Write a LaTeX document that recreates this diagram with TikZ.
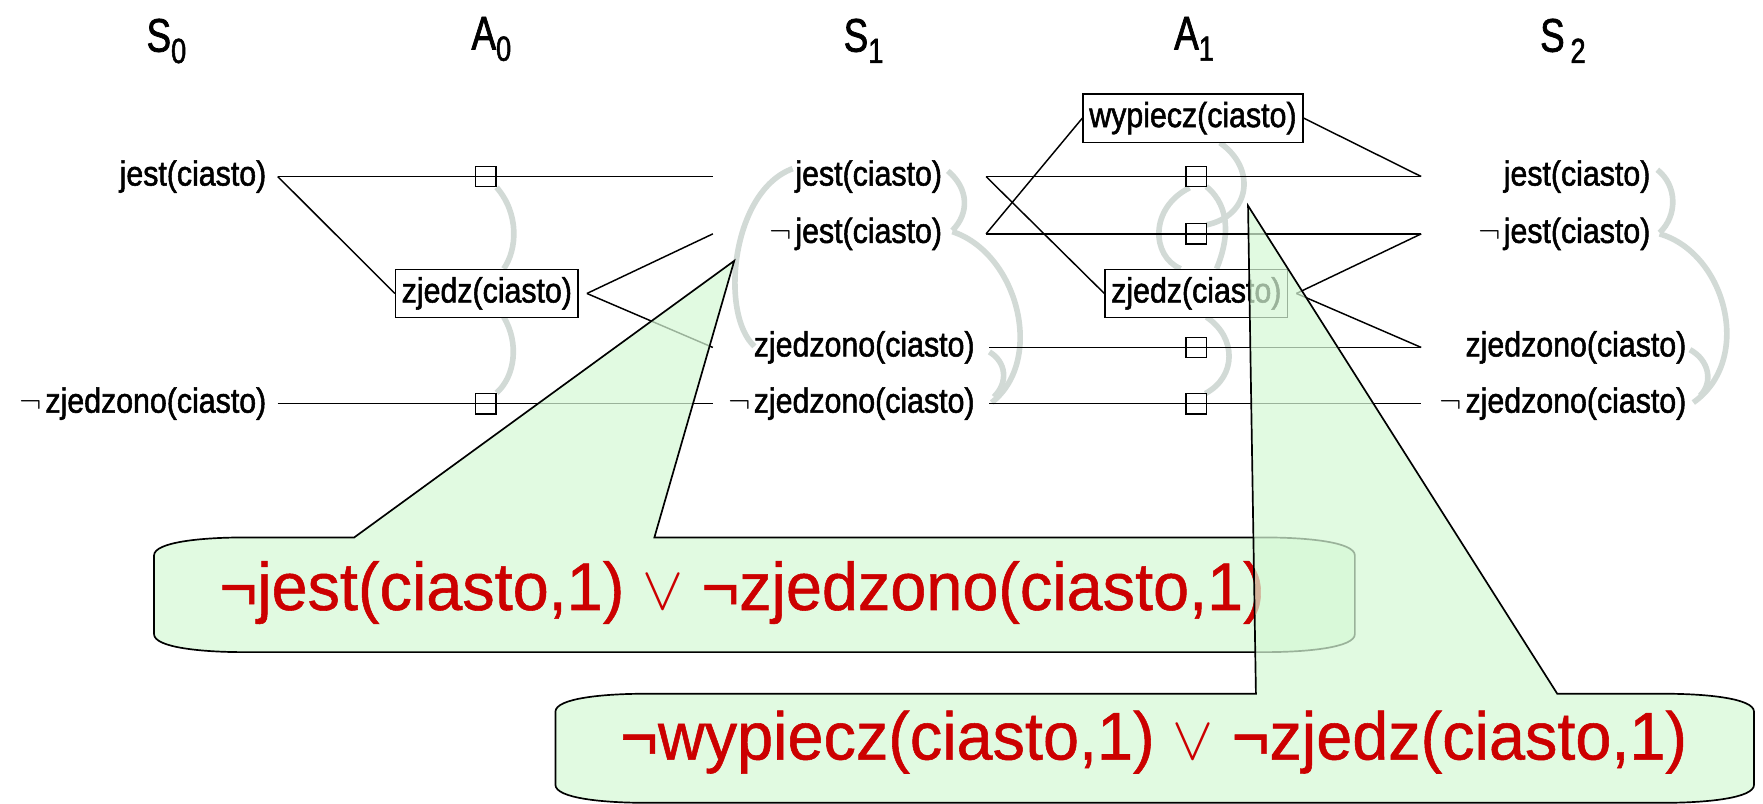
\documentclass[tikz,border=0pt]{standalone}
\usepackage{fontspec}
\setmainfont{Liberation Sans}
\newfontfamily\lblfont[FakeStretch=0.87,FakeBold=1.5]{Liberation Sans}
\newfontfamily\hdrfont[FakeStretch=0.78,FakeBold=1.5]{Liberation Sans}
\newfontfamily\clausefont[FakeStretch=0.96,FakeBold=0.8]{Liberation Sans}
\pgfdeclarelayer{bg}
\pgfsetlayers{bg,main}
\definecolor{mutexgrey}{RGB}{210,218,214}
\definecolor{callgreen}{RGB}{214,248,214}
\definecolor{clausered}{RGB}{204,0,0}
\newcommand\hsub[1]{\raisebox{-10pt}{\fontsize{31}{31}\selectfont #1}}
\newcommand\lneg{\scalebox{1.2}{$\neg$}\hspace{3pt}}
\newcommand\myor{\scalebox{2.2}{$\vee$}}
\tikzset{
 lbl/.style={anchor=east, inner sep=0pt, font=\lblfont\fontsize{31}{33}\selectfont},
 hdr/.style={anchor=base, inner sep=0pt, font=\hdrfont\fontsize{42}{44}\selectfont},
 act/.style={draw, line width=1.3pt, fill=white, inner xsep=5.5pt, inner ysep=0pt, minimum height=43pt, font=\lblfont\fontsize{31}{33}\selectfont},
 noop/.style={draw, line width=1.3pt, minimum size=18pt, inner sep=0pt},
 link/.style={line width=1.3pt},
 mutex/.style={draw=mutexgrey, line width=5pt},
 callout/.style={draw, line width=1.5pt, fill=callgreen, fill opacity=0.72},
 clause/.style={text=clausered, font=\clausefont\fontsize{60}{62}\selectfont, inner sep=0pt},
}
\begin{document}
\begin{tikzpicture}[x=1pt,y=-1pt]
\useasboundingbox (0,0) rectangle (1568,715);
% headers
\node[hdr] (hS0) at (148,46) {S\hsub{0}};
\node[hdr] (hA0) at (437,44) {A\hsub{0}};
\node[hdr] (hS1) at (768,46) {S\hsub{1}};
\node[hdr] (hA1) at (1062,44) {A\hsub{1}};
\node[hdr] (hS2) at (1390,46) {S\hsub{\,2}};
% S0
\node[lbl] (s0j) at (237,157) {jest(ciasto)};
\node[lbl] (s0nz) at (237,359) {\lneg zjedzono(ciasto)};
% S1
\node[lbl] (s1j) at (838,157) {jest(ciasto)};
\node[lbl] (s1nj) at (838,208) {\lneg jest(ciasto)};
\node[lbl] (s1z) at (867,309) {zjedzono(ciasto)};
\node[lbl] (s1nz) at (867,359) {\lneg zjedzono(ciasto)};
% S2
\node[lbl] (s2j) at (1468,157) {jest(ciasto)};
\node[lbl] (s2nj) at (1468,208) {\lneg jest(ciasto)};
\node[lbl] (s2z) at (1500,309) {zjedzono(ciasto)};
\node[lbl] (s2nz) at (1500,359) {\lneg zjedzono(ciasto)};
% A0
\node[act] (a0e) at (433,261) {zjedz(ciasto)};
\node[noop] (n0j) at (432,157) {};
\node[noop] (n0nz) at (432,359) {};
% A1
\node[act] (a1w) at (1061,105) {wypiecz(ciasto)};
\node[act] (a1e) at (1064,261) {zjedz(ciasto)};
\node[noop] (n1j) at (1064,157) {};
\node[noop] (n1nj) at (1064,208) {};
\node[noop] (n1z) at (1064,309) {};
\node[noop] (n1nz) at (1064,359) {};
% line end points
\coordinate (s0Rj) at (247,157);
\coordinate (s0Rnz) at (247,359);
\coordinate (s1Lj) at (634,157);
\coordinate (s1Lnj) at (634,208);
\coordinate (s1Lz) at (634,309);
\coordinate (s1Lnz) at (634,359);
\coordinate (s1Rj) at (877,157);
\coordinate (s1Rnj) at (877,208);
\coordinate (s1Rz) at (880,309);
\coordinate (s1Rnz) at (880,359);
\coordinate (s2Lj) at (1264,157);
\coordinate (s2Lnj) at (1264,208);
\coordinate (s2Lz) at (1264,309);
\coordinate (s2Lnz) at (1264,359);
\coordinate (a0eR) at (522,261);
\coordinate (a1eR) at (1153,261);
% connectors
\draw[link] (s0Rj) -- (s1Lj);
\draw[link] (s0Rnz) -- (s1Lnz);
\draw[link] (s0Rj) -- (a0e.west);
\draw[link] (a0eR) -- (s1Lnj);
\draw[link] (a0eR) -- (s1Lz);
\draw[link] (s1Rj) -- (s2Lj);
\draw[link] (s1Rnj) -- (s2Lnj);
\draw[link] (s1Rz) -- (s2Lz);
\draw[link] (s1Rnz) -- (s2Lnz);
\draw[link] (s1Rj) -- (a1e.west);
\draw[link] (s1Rnj) -- (a1w.west);
\draw[link] (a1w.east) -- (s2Lj);
\draw[link] (a1eR) -- (s2Lnj);
\draw[link] (a1eR) -- (s2Lz);
% mutex arcs
\begin{pgfonlayer}{bg}
\draw[mutex] (n0j.south east) .. controls (462,190) and (460,222) .. (448,239);
\draw[mutex] (448,282) .. controls (462,305) and (458,335) .. (n0nz.north east);
\draw[mutex] (843,152) .. controls (862,168) and (862,190) .. (847,205);
\draw[mutex] (847,206) .. controls (905,225) and (930,320) .. (882,358);
\draw[mutex] (880,313) .. controls (895,322) and (897,340) .. (884,353);
\draw[mutex] (705,150) .. controls (650,170) and (640,280) .. (671,308);
\draw[mutex] (1474,151) .. controls (1492,165) and (1492,192) .. (1476,207);
\draw[mutex] (1476,208) .. controls (1535,225) and (1560,320) .. (1506,358);
\draw[mutex] (1503,311) .. controls (1520,320) and (1524,340) .. (1512,352);
\draw[mutex] (1085,127) .. controls (1118,150) and (1112,192) .. (1073,200);
\draw[mutex] (1058,167) .. controls (1022,185) and (1024,228) .. (1050,239);
\draw[mutex] (1073,166) .. controls (1096,185) and (1092,215) .. (1082,239);
\draw[mutex] (1073,282) .. controls (1100,300) and (1100,335) .. (1072,350);
\end{pgfonlayer}
% callouts
\coordinate (tip1) at (653,232);
\coordinate (tip2) at (1110,183);
\path[callout] (137,494) .. controls (137,482) and (180,478) .. (217,478) -- (315,478) -- (tip1) -- (582,478) -- (1125,478) .. controls (1162,478) and (1205,482) .. (1205,494) -- (1205,564) .. controls (1205,576) and (1162,580) .. (1125,580) -- (217,580) .. controls (180,580) and (137,576) .. (137,564) -- cycle;
\node[clause] (c1) at (660,527) {¬jest(ciasto,1) \myor{} ¬zjedzono(ciasto,1)};
\path[callout] (494,633) .. controls (494,621) and (537,617) .. (574,617) -- (1117,617) -- (tip2) -- (1385,617) -- (1480,617) .. controls (1517,617) and (1560,621) .. (1560,633) -- (1560,698) .. controls (1560,710) and (1517,714) .. (1480,714) -- (574,714) .. controls (537,714) and (494,710) .. (494,698) -- cycle;
\node[clause] (c2) at (1026,660) {¬wypiecz(ciasto,1) \myor{} ¬zjedz(ciasto,1)};
\end{tikzpicture}
\end{document}
